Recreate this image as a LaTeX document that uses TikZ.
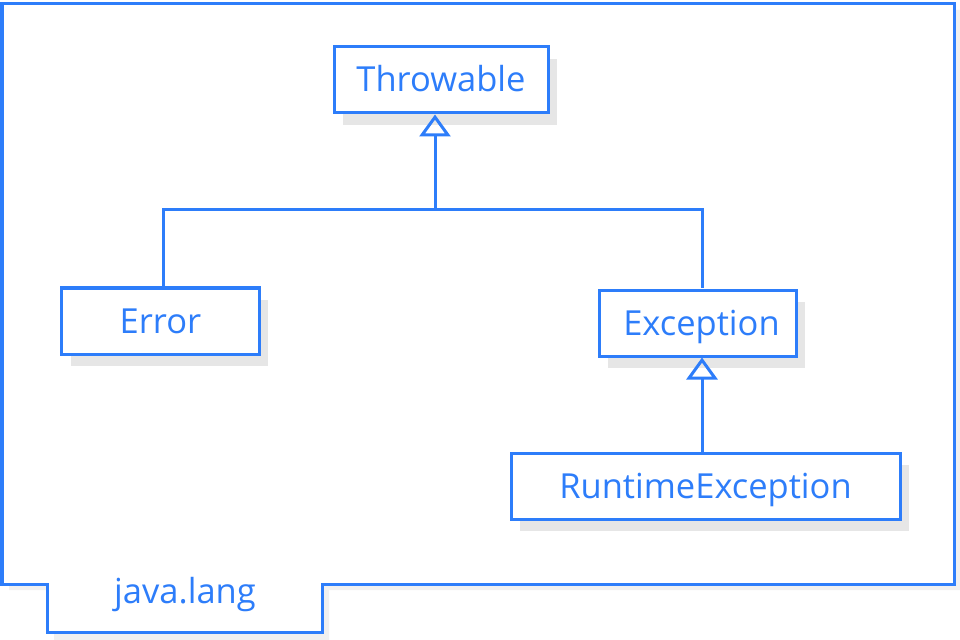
\documentclass[tikz,border=0pt]{standalone}
\usepackage{fontspec}
\setmainfont{Open Sans}
\usetikzlibrary{arrows.meta,shadows}
\definecolor{umlblue}{RGB}{45,125,250}
\definecolor{shadowgray}{RGB}{230,230,230}
\definecolor{frameshadow}{RGB}{240,240,240}
\tikzset{
  classbox/.style={draw=umlblue, line width=3bp, fill=white, inner sep=0pt,
    minimum height=66bp, text height=30bp, text depth=6bp, text=umlblue,
    font=\fontsize{34.5bp}{40bp}\selectfont,
    general shadow={fill=shadowgray, shadow xshift=9bp, shadow yshift=-12bp}},
  conn/.style={draw=umlblue, line width=3bp},
  gen/.style={conn, -{Triangle[open, length=22bp, width=31bp, line width=3bp]}},
  pkglabel/.style={text=umlblue, font=\fontsize{34.5bp}{40bp}\selectfont, inner sep=0pt}
}
\begin{document}
\begin{tikzpicture}[x=1bp, y=-1bp]
\useasboundingbox (0,0) rectangle (960,640);
% package frame shadow and frame
\fill[frameshadow] (9,10) -- (961,10) -- (961,590) -- (329,590) -- (329,640) -- (54,640) -- (54,590) -- (9,590) -- cycle;
\draw[conn, fill=white] (2,4) -- (954,4) -- (954,584) -- (322,584) -- (322,632) -- (47,632) -- (47,584) -- (2,584) -- cycle;
\node[pkglabel, anchor=base] (pkg) at (185,603) {java.lang};
% classes
\node[classbox, minimum width=214bp] (thr) at (441,80) {Throwable};
\node[classbox, minimum width=197bp] (err) at (160.5,321) {Error};
\node[classbox, minimum width=197bp] (exc) at (697.5,323) {\hspace{8bp}Exception};
\node[classbox, minimum width=389bp] (rte) at (705.5,486) {RuntimeException\hspace{14bp}};
% generalizations
\coordinate (jn) at (435,210);
\draw[gen] (jn) -- (thr.south -| jn);
\draw[conn] (err.north -| 163,0) |- (jn) -| (exc.north -| 702,0);
\draw[gen] (rte.north -| 702,0) -- (exc.south -| 702,0);
\end{tikzpicture}
\end{document}
